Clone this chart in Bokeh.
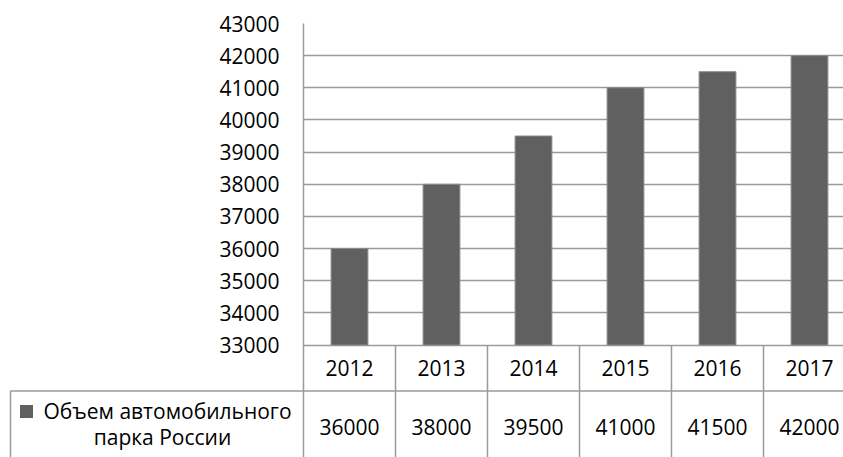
from bokeh.plotting import figure
from bokeh.models import Range1d, FixedTicker, ColumnDataSource
from bokeh.core.properties import value
from bokeh.embed import file_html
from bokeh.resources import INLINE

# ---------------- data ----------------
years = ["2012", "2013", "2014", "2015", "2016", "2017"]
fleet = [36000, 38000, 39500, 41000, 41500, 42000]
y_ticks = [33000, 34000, 35000, 36000, 37000, 38000, 39000, 40000, 41000, 42000, 43000]
series_lines = ["Объем автомобильного", "парка России"]

# ---------------- layout constants (pixels) ----------------
W, H = 843, 457
LEFT = 303          # frame left edge inside figure
TOP = 23            # frame top edge inside figure
FRAME_W = W - LEFT
FRAME_H = H - TOP
COLW = 92.0         # table column width
PX_PER_UNIT = 32.15 / 1000.0
HEAD_H = 46         # header row height

FONT = "Open Sans"
FSIZE = "21px"
GRID = "#9a9a9a"
BAR = "#606060"

def px_x(page_x):
    """figure x pixel -> data x (column units)"""
    return -0.5 + (page_x - LEFT) / COLW

y_end = y_ticks[-1]
y_start = y_end - FRAME_H / PX_PER_UNIT
y33 = (y_end - y_ticks[0]) * PX_PER_UNIT   # table-space y of the axis bottom

p = figure(width=W, height=H,
           x_range=Range1d(-0.5, -0.5 + FRAME_W / COLW),
           y_range=Range1d(y_start, y_end),
           output_backend="svg", toolbar_location=None,
           x_axis_location=None,
           min_border_left=LEFT, min_border_top=TOP,
           min_border_right=0, min_border_bottom=0)
p.outline_line_color = None
p.background_fill_color = "white"
p.border_fill_color = "white"
p.extra_y_ranges = {"tbl": Range1d(start=FRAME_H, end=0)}

# axis
p.yaxis.ticker = FixedTicker(ticks=y_ticks)
p.yaxis.major_tick_out = 0
p.yaxis.major_tick_in = 0
p.yaxis.minor_tick_line_color = None
p.yaxis.axis_line_color = GRID
p.yaxis.axis_line_width = 1.5
p.yaxis.major_label_standoff = 24
p.yaxis.major_label_text_font = FONT
p.yaxis.major_label_text_font_size = FSIZE
p.yaxis.major_label_text_color = "black"

p.xgrid.visible = False
p.ygrid.ticker = FixedTicker(ticks=y_ticks)
p.ygrid.grid_line_color = GRID
p.ygrid.grid_line_width = 1.5

idx = list(range(len(years)))

# bars
src = ColumnDataSource(dict(x=idx, top=fleet, year=years,
                            label=[str(v) for v in fleet]))
p.vbar(x="x", top="top", bottom=y_ticks[0], width=0.4, source=src,
       fill_color=BAR, line_color="#8a8a8a", line_width=1)

# ---------------- data table ----------------
x_left = px_x(10)
x_right = -0.5 + FRAME_W / COLW
row_top = y33 + HEAD_H

# column separators
p.segment(x0=[i + 0.5 for i in idx[:-1]], x1=[i + 0.5 for i in idx[:-1]],
          y0=y33, y1=FRAME_H, y_range_name="tbl",
          line_color=GRID, line_width=1.5, level="overlay")
# left border of row-header cell + line under header row
p.line(x=[x_left, x_left, x_right], y=[FRAME_H + 5, row_top, row_top],
       y_range_name="tbl", line_color=GRID, line_width=1.5, level="overlay")

# header (years) and values
p.text(x="x", y=y33 + 22.5, text="year", source=src, y_range_name="tbl",
       text_font=value(FONT), text_font_size=FSIZE, text_color="black",
       text_align="center", text_baseline="middle")
p.text(x="x", y=y33 + 81.5, text="label", source=src, y_range_name="tbl",
       text_font=value(FONT), text_font_size=FSIZE, text_color="black",
       text_align="center", text_baseline="middle")

# row header: legend key + series name
key_cx, key_cy, key_half = 26, y33 + 66.5, 6.5
p.patch(x=[px_x(key_cx - key_half), px_x(key_cx + key_half),
           px_x(key_cx + key_half), px_x(key_cx - key_half)],
        y=[key_cy - key_half, key_cy - key_half, key_cy + key_half, key_cy + key_half],
        y_range_name="tbl", fill_color=BAR, line_color=None, level="overlay")
p.text(x=[px_x(167), px_x(162)], y=[y33 + 65.5, y33 + 92], text=series_lines,
       y_range_name="tbl", text_font=value(FONT), text_font_size=FSIZE,
       text_color="black", text_align="center",
       text_baseline="middle", level="overlay")

open("out.html", "w").write(file_html(p, INLINE))
